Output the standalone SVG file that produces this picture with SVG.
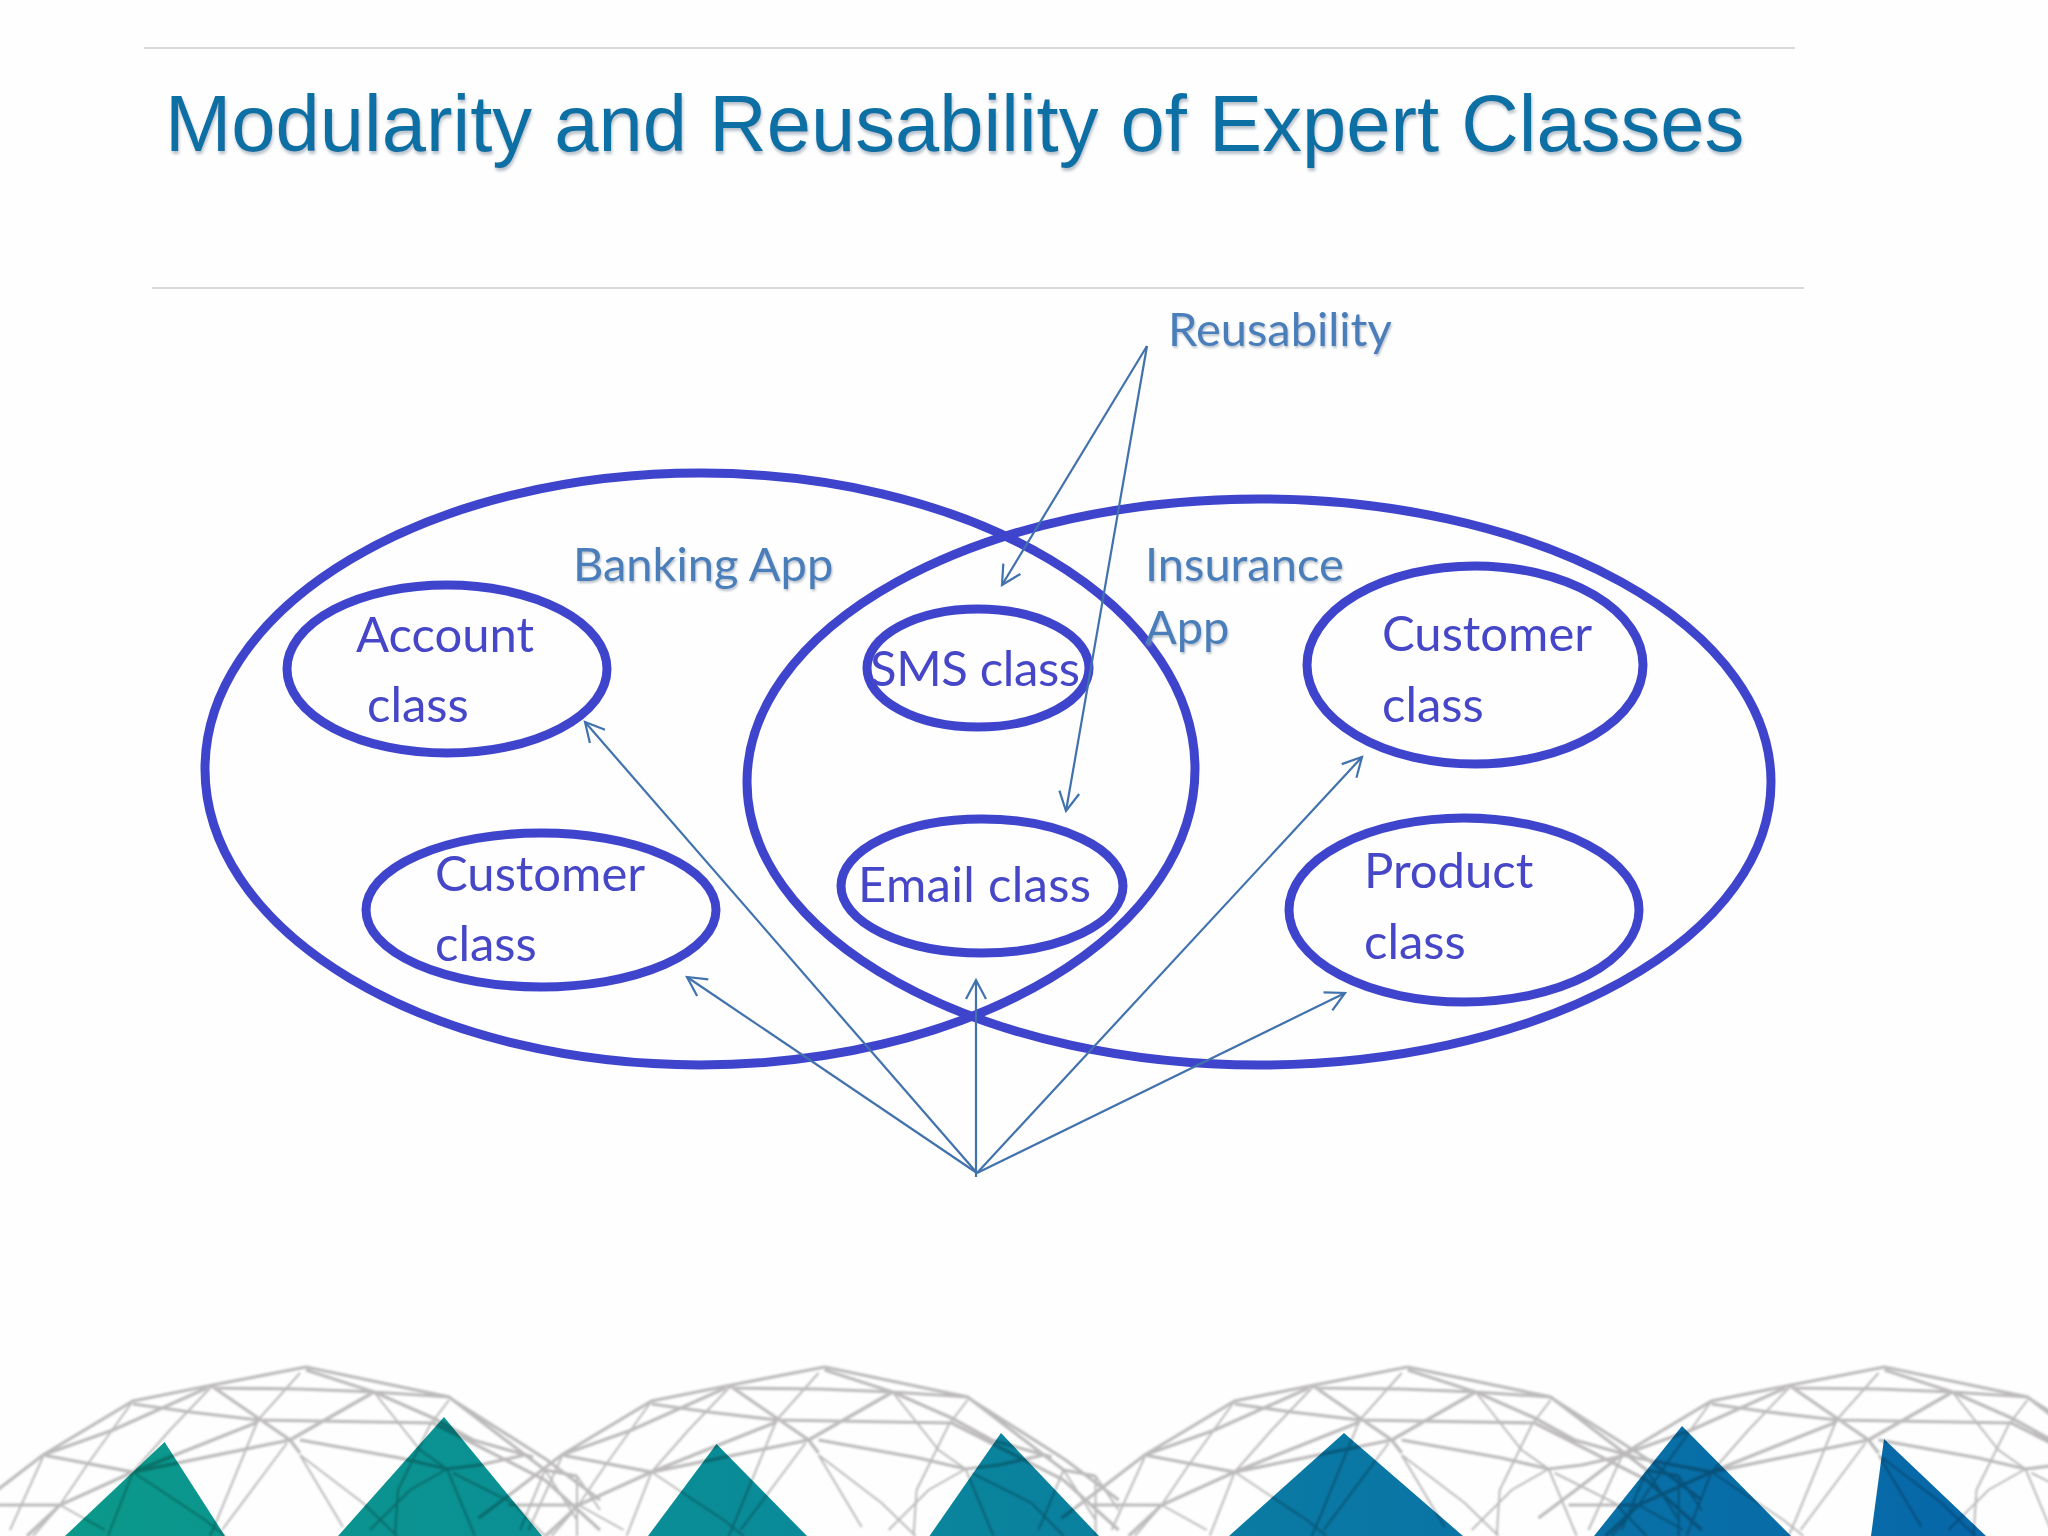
<svg xmlns="http://www.w3.org/2000/svg" width="2048" height="1536" viewBox="0 0 2048 1536">
<style>
.rule{stroke:#d9d9d9;stroke-width:2;fill:none}
.title{font-family:"Liberation Sans",Arial,sans-serif;font-size:79.6px;fill:#0b6fa4;filter:url(#ts)}
.lbl{font-family:Lato,"Open Sans",sans-serif;font-size:47px;fill:#4a7ebb;filter:url(#ts2)}
.cls{font-family:Lato,"Open Sans",sans-serif;font-size:49px;fill:#4646c8}
.oval{fill:none;stroke:#3e44cc;stroke-width:9}
.arr{fill:none;stroke:#4172ad;stroke-width:2.2;marker-end:url(#open)}
.thick{fill:none;stroke:#bdbbbb;stroke-width:3.2}
.thin{fill:none;stroke:#bdbbbb;stroke-width:2}
</style>
<defs>
<filter id="ts" x="-5%" y="-20%" width="110%" height="140%"><feDropShadow dx="1" dy="3" stdDeviation="1.5" flood-color="#8a9aa8" flood-opacity=".6"/></filter>
<filter id="ts2" x="-5%" y="-20%" width="110%" height="140%"><feDropShadow dx="1" dy="2" stdDeviation="1.2" flood-color="#8a9aa8" flood-opacity=".6"/></filter>
<filter id="soft" filterUnits="userSpaceOnUse" x="0" y="1340" width="2048" height="196"><feGaussianBlur stdDeviation=".8"/></filter>
<marker id="open" markerUnits="userSpaceOnUse" markerWidth="30" markerHeight="30" refX="22" refY="15" orient="auto"><path d="M3,5 L22,15 L3,25" fill="none" stroke="#4172ad" stroke-width="2.2"/></marker>
<linearGradient id="tri" gradientUnits="userSpaceOnUse" x1="60" y1="0" x2="1990" y2="0"><stop offset="0" stop-color="#0b998a"/><stop offset=".35" stop-color="#0a8c98"/><stop offset=".65" stop-color="#0a78a4"/><stop offset="1" stop-color="#0767a9"/></linearGradient>
<g id="dome">
<path class="thick" d="M306,1367 L213,1385 L133,1401 L43,1455 L0,1488 L-40,1518 M306,1367 L449,1397 L545,1470 L577,1476 M306,1370 L374,1392 L449,1397 M213,1388 L300,1389 L374,1392 M133,1404 L190,1412 L258,1420 L433,1423 M374,1392 L433,1418 L473,1440 L533,1457 M43,1455 L133,1472 L290,1440 M300,1440 L400,1458 L447,1469 L480,1465 L525,1455 M207,1388 L113,1430 L43,1455 M258,1422 L175,1455 L133,1472 L60,1505 L27,1536 M213,1387 L258,1418 L290,1440 L300,1453 M374,1392 L290,1440 M-10,1505 L60,1505 M453,1400 L547,1460 L600,1500 M433,1423 L545,1480 L600,1530"/>
<path class="thin" d="M300,1373 L258,1420 L217,1520 L210,1536 M287,1443 L222,1530 M213,1385 L170,1430 L133,1472 L108,1536 M133,1401 L87,1465 L60,1505 L33,1536 M43,1457 L10,1530 M133,1472 L205,1520 L225,1536 M60,1505 L105,1530 M300,1455 L363,1503 L397,1536 M300,1455 L343,1527 M374,1392 L420,1450 L447,1469 M447,1469 L475,1536 M447,1469 L410,1490 L370,1530 M449,1400 L430,1425 L398,1490 L395,1536 M453,1473 L513,1503 L545,1536 M545,1470 L577,1520 M545,1470 L520,1530 M577,1476 L577,1536 M577,1476 L600,1510"/>
</g>
</defs>
<rect width="2048" height="1536" fill="#fefefe"/>
<g id="rules">
<line class="rule" x1="144" y1="48" x2="1795" y2="48"/>
<line class="rule" x1="152" y1="288" x2="1804" y2="288"/>
</g>
<g id="triangles" fill="url(#tri)">
<polygon points="164.6,1442 65,1536 225,1536"/>
<polygon points="444,1417 338,1536 542,1536"/>
<polygon points="716.5,1444 648,1536 807,1536"/>
<polygon points="1001,1433 929.5,1536 1099,1536"/>
<polygon points="1344,1433 1229,1536 1463,1536"/>
<polygon points="1682,1426 1594,1536 1791,1536"/>
<polygon points="1884,1439 1871,1536 1986,1536"/>
</g>
<g id="domes" style="mix-blend-mode:multiply" filter="url(#soft)">
<use href="#dome"/>
<use href="#dome" x="518.6"/>
<use href="#dome" x="1101.7"/>
<use href="#dome" x="1578.5"/>
</g>
<text class="title" x="165" y="151">Modularity and Reusability of Expert Classes</text>
<g id="banking-app"><ellipse class="oval" cx="700" cy="769" rx="495" ry="296"/><text class="lbl" x="573" y="581">Banking App</text></g>
<g id="insurance-app"><ellipse class="oval" cx="1259" cy="782" rx="512" ry="283"/><text class="lbl" x="1145" y="581">Insurance</text><text class="lbl" x="1145" y="644">App</text></g>
<g id="account-class"><ellipse class="oval" cx="447" cy="669" rx="160" ry="84"/><text class="cls" x="356" y="652">Account</text><text class="cls" x="367" y="722">class</text></g>
<g id="customer-class-left"><ellipse class="oval" cx="541" cy="910" rx="175" ry="77"/><text class="cls" x="435" y="891">Customer</text><text class="cls" x="435" y="961">class</text></g>
<g id="sms-class"><ellipse class="oval" cx="978" cy="668" rx="111" ry="59"/><text class="cls" x="870" y="686" textLength="210">SMS class</text></g>
<g id="email-class"><ellipse class="oval" cx="982" cy="886" rx="141" ry="67"/><text class="cls" x="858" y="902" textLength="233">Email class</text></g>
<g id="customer-class-right"><ellipse class="oval" cx="1475" cy="665" rx="168" ry="99"/><text class="cls" x="1382" y="651">Customer</text><text class="cls" x="1382" y="722">class</text></g>
<g id="product-class"><ellipse class="oval" cx="1464" cy="910" rx="175" ry="92"/><text class="cls" x="1364" y="888">Product</text><text class="cls" x="1364" y="959">class</text></g>
<g id="reusability"><text class="lbl" x="1168" y="346">Reusability</text></g>
<g id="connectors">
<line class="arr" x1="977" y1="1173" x2="585" y2="722"/>
<line class="arr" x1="977" y1="1173" x2="687" y2="977"/>
<line class="arr" x1="976" y1="1177" x2="976" y2="980"/>
<line class="arr" x1="977" y1="1173" x2="1362" y2="757"/>
<line class="arr" x1="977" y1="1173" x2="1345" y2="993"/>
<line class="arr" x1="1147" y1="346" x2="1002" y2="585"/>
<line class="arr" x1="1147" y1="346" x2="1066" y2="811"/>
</g>
</svg>
